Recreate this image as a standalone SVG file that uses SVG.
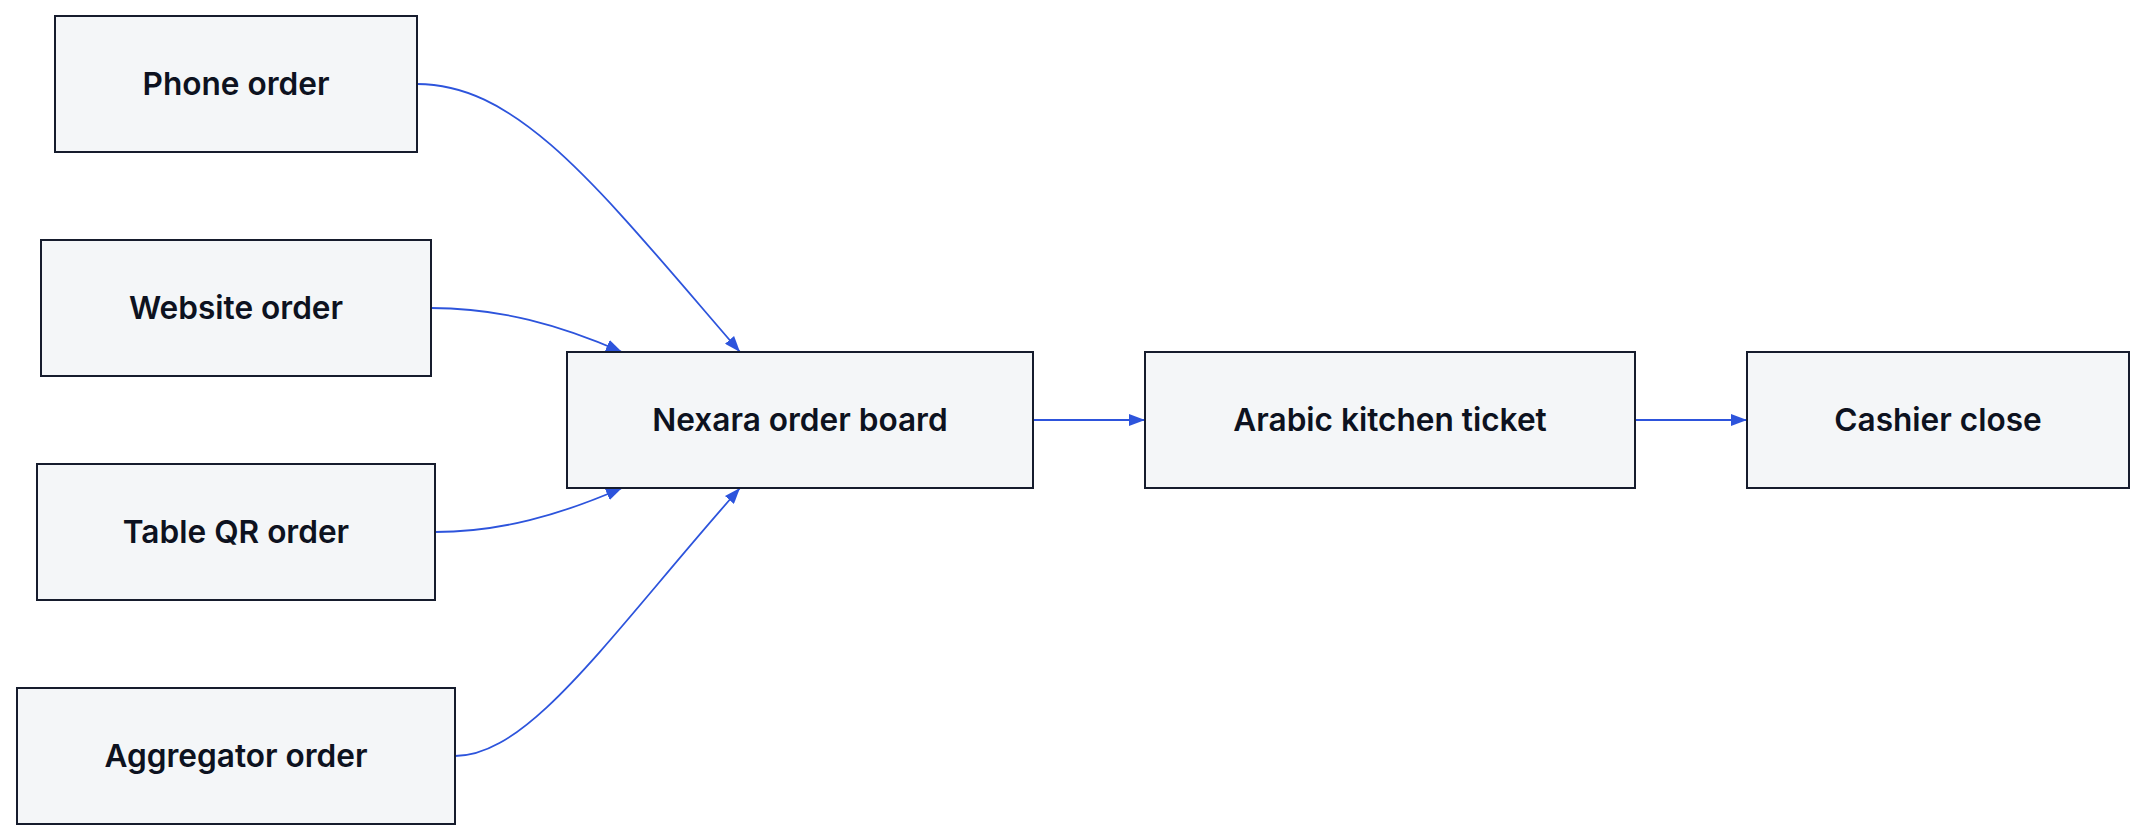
<svg xmlns="http://www.w3.org/2000/svg" width="2146" height="840" viewBox="0 0 2146 840">
<style>
.box{fill:#f4f6f8;stroke:#161c2d;stroke-width:2}
.lbl{font-family:Inter,"Noto Sans","DejaVu Sans",sans-serif;font-size:31.6px;font-weight:600;fill:#0d1220;text-anchor:middle}
.edge{fill:none;stroke:#2d54dc;stroke-width:1.8}
</style>
<defs>
<marker id="arr" viewBox="0 0 16 12" refX="16" refY="6" markerWidth="16" markerHeight="12" markerUnits="userSpaceOnUse" orient="auto">
<path d="M0,0 L16,6 L0,12 z" fill="#2d54dc"/>
</marker>
</defs>
<rect width="2146" height="840" fill="#ffffff"/>
<g id="connectors">
<path class="edge" d="M417,84 C520,84 600,190 740,352" marker-end="url(#arr)"/>
<path class="edge" d="M431,308 C500,308 560,325 622,352" marker-end="url(#arr)"/>
<path class="edge" d="M435,532 C500,532 560,515 622,488" marker-end="url(#arr)"/>
<path class="edge" d="M455,756 C530,756 610,635 740,488" marker-end="url(#arr)"/>
<path class="edge" d="M1033,420 L1145,420" marker-end="url(#arr)"/>
<path class="edge" d="M1635,420 L1747,420" marker-end="url(#arr)"/>
</g>
<g id="phone"><rect class="box" x="55" y="16" width="362" height="136"/><text class="lbl" x="236" y="95">Phone order</text></g>
<g id="website"><rect class="box" x="41" y="240" width="390" height="136"/><text class="lbl" x="236" y="319">Website order</text></g>
<g id="tableqr"><rect class="box" x="37" y="464" width="398" height="136"/><text class="lbl" x="236" y="543">Table QR order</text></g>
<g id="aggregator"><rect class="box" x="17" y="688" width="438" height="136"/><text class="lbl" x="236" y="767">Aggregator order</text></g>
<g id="board"><rect class="box" x="567" y="352" width="466" height="136"/><text class="lbl" x="800" y="431">Nexara order board</text></g>
<g id="kitchen"><rect class="box" x="1145" y="352" width="490" height="136"/><text class="lbl" x="1390" y="431">Arabic kitchen ticket</text></g>
<g id="cashier"><rect class="box" x="1747" y="352" width="382" height="136"/><text class="lbl" x="1938" y="431">Cashier close</text></g>
</svg>
